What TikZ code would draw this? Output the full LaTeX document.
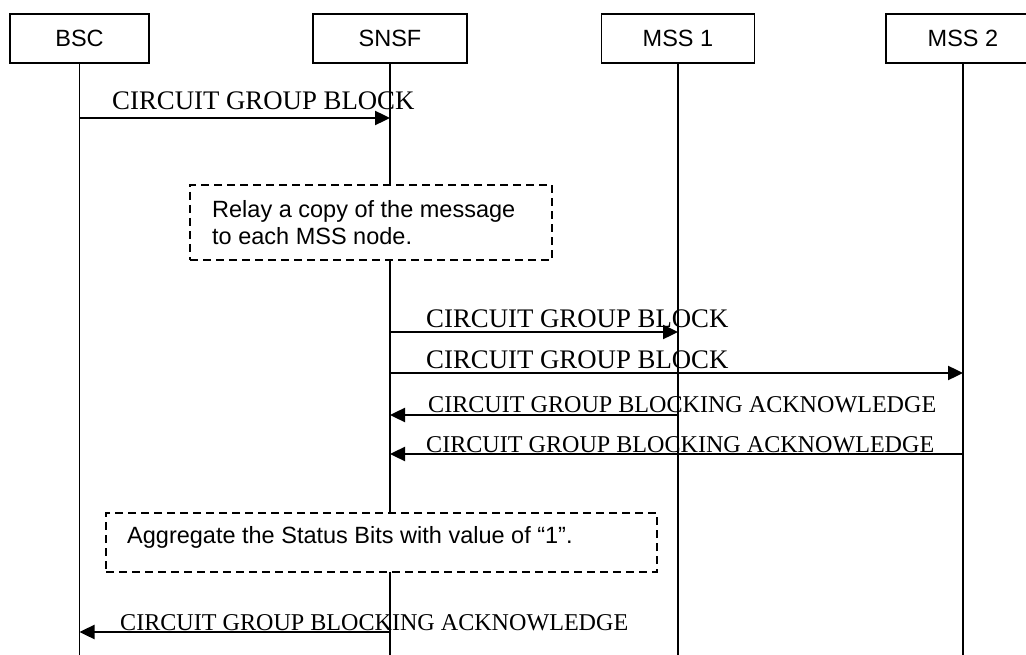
\documentclass[tikz,border=0pt]{standalone}
\usepackage{fontspec}
\setmainfont{Liberation Serif}
\newfontfamily\arialf{Liberation Sans}
\usetikzlibrary{arrows.meta}
\begin{document}
\begin{tikzpicture}[x=1pt,y=-1pt,
  actor/.style={draw,line width=1.2pt,minimum height=49pt,font=\arialf\fontsize{23.5}{28}\selectfont,inner sep=0pt},
  life/.style={line width=1.3pt},
  msg/.style={line width=2.4pt,-{Triangle[length=15pt,width=14pt]}},
  lbl/.style={font=\fontsize{26.8}{30}\selectfont,anchor=base west,inner sep=0pt},
  ack/.style={font=\fontsize{24.1}{28}\selectfont,anchor=base west,inner sep=0pt},
  note/.style={draw,dash pattern=on 8pt off 5pt,line width=1.2pt,fill=white,inner sep=0pt},
  notetext/.style={font=\arialf\fontsize{23.5}{28}\selectfont,align=left,anchor=base west,inner sep=0pt}
]
\useasboundingbox (0,0) rectangle (1026,655);
\clip (0,0) rectangle (1026,655);
% actors
\node[actor,minimum width=139pt] (bsc) at (79.5,38.5) {BSC};
\node[actor,minimum width=154pt] (snsf) at (390,38.5) {SNSF};
\node[actor,minimum width=153pt] (mss1) at (678,38.5) {MSS 1};
\node[actor,minimum width=154pt] (mss2) at (963,38.5) {MSS 2};
% lifelines
\coordinate (bscE) at (bsc.south |- 0,660);
\coordinate (snsfE) at (snsf.south |- 0,660);
\coordinate (mss1E) at (mss1.south |- 0,660);
\coordinate (mss2E) at (mss2.south |- 0,660);
\draw[life] (bsc.south) -- (bscE);
\draw[life] (snsf.south) -- (snsfE);
\draw[life] (mss1.south) -- (mss1E);
\draw[life] (mss2.south) -- (mss2E);
% message 1
\draw[msg] (bsc.south |- 0,118) -- (snsf.south |- 0,118);
\node[lbl] (t1) at (112,110) {CIRCUIT GROUP BLOCK};
% note 1
\node[note,minimum width=362pt,minimum height=75pt] (n1) at (371,222.5) {};
\node[notetext] (n1t) at (212,245) {Relay a copy of the message\\to each MSS node.};
% messages 2-5
\draw[msg] (snsf.south |- 0,332) -- (mss1.south |- 0,332);
\node[lbl] (t2) at (426,327) {CIRCUIT GROUP BLOCK};
\draw[msg] (snsf.south |- 0,373) -- (mss2.south |- 0,373);
\node[lbl] (t3) at (426,368) {CIRCUIT GROUP BLOCK};
\draw[msg] (mss1.south |- 0,415) -- (snsf.south |- 0,415);
\node[ack] (t4) at (428,412) {CIRCUIT GROUP BLOCKING ACKNOWLEDGE};
\draw[msg] (mss2.south |- 0,454) -- (snsf.south |- 0,454);
\node[ack] (t5) at (426,452) {CIRCUIT GROUP BLOCKING ACKNOWLEDGE};
% note 2
\node[note,minimum width=551pt,minimum height=59pt] (n2) at (381.5,542.5) {};
\node[notetext] (n2t) at (127,543) {Aggregate the Status Bits with value of “1”.};
% message 6
\draw[msg] (snsf.south |- 0,632) -- (bsc.south |- 0,632);
\node[ack] (t6) at (120,630) {CIRCUIT GROUP BLOCKING ACKNOWLEDGE};
\end{tikzpicture}
\end{document}
